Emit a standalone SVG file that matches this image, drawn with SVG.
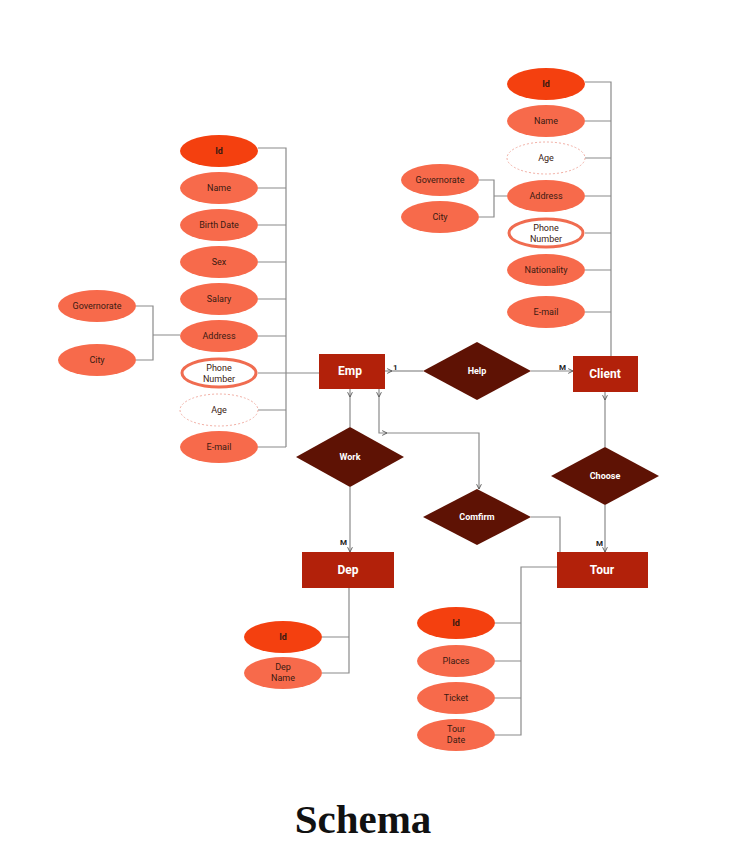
<svg xmlns="http://www.w3.org/2000/svg" width="732" height="860" viewBox="0 0 732 860">
<style>
.a{fill:#f76a4b}
.k{fill:#f4400f}
.w{fill:#fff;stroke:#f06c50;stroke-width:3}
.d{fill:#fff;stroke:#f2b0a6;stroke-width:1;stroke-dasharray:2 2}
.t{font-family:Roboto,"Liberation Sans",sans-serif;font-size:9px;fill:#3a1a12;text-anchor:middle}
.e{fill:#b2210a}
.r{fill:#5e1204}
.et{font-family:Roboto,"Liberation Sans",sans-serif;font-size:12px;font-weight:bold;fill:#fff;text-anchor:middle}
.rt{font-family:Roboto,"Liberation Sans",sans-serif;font-size:9px;font-weight:bold;fill:#fff;text-anchor:middle}
.l{fill:none;stroke:#8a8a8a;stroke-width:1.2}
.c{font-family:Roboto,"Liberation Sans",sans-serif;font-size:8px;font-weight:bold;fill:#222}
</style>
<defs>
<marker id="ar" viewBox="0 0 10 10" refX="9" refY="5" markerWidth="5" markerHeight="5" orient="auto"><path d="M1,1 L9,5 L1,9" fill="none" stroke="#555" stroke-width="1.5"/></marker>
</defs>
<rect width="732" height="860" fill="#fff"/>
<g id="connectors">
<path class="l" d="M258,148H286V447M258,188H286M258,225H286M258,262H286M258,299H286M258,336H286M258,410H286M258,447H286"/>
<path class="l" d="M258,373H319"/>
<path class="l" d="M136,306H153V360H136M153,335H180"/>
<path class="l" d="M585,82H611V356M585,121H611M585,158H611M585,196H611M585,233H611M585,270H611M585,312H611"/>
<path class="l" d="M479,180H494V217H479M494,196H507"/>
<path class="l" d="M385,371H392" marker-end="url(#ar)"/>
<path class="l" d="M392,371H423"/>
<path class="l" d="M531,371H573" marker-end="url(#ar)"/>
<text class="c" x="393" y="370">1</text>
<text class="c" x="559" y="370">M</text>
<path class="l" d="M350,389V397" marker-end="url(#ar)"/>
<path class="l" d="M350,397V427"/>
<path class="l" d="M350,487V552" marker-end="url(#ar)"/>
<text class="c" x="340" y="545">M</text>
<path class="l" d="M379,389V397" marker-end="url(#ar)"/>
<path class="l" d="M379,397V433H387" marker-end="url(#ar)"/>
<path class="l" d="M387,433H479V489" marker-end="url(#ar)"/>
<path class="l" d="M531,517H560V552"/>
<path class="l" d="M605,392V400" marker-end="url(#ar)"/>
<path class="l" d="M605,400V447"/>
<path class="l" d="M605,505V552" marker-end="url(#ar)"/>
<text class="c" x="596" y="546">M</text>
<path class="l" d="M349,588V673H322M322,637H349"/>
<path class="l" d="M557,567H521V735H495M495,623H521M495,661H521M495,698H521"/>
</g>
<g id="emp_id"><ellipse class="k" cx="219" cy="151" rx="39" ry="16"/><text class="t" x="219" y="154" font-weight="bold">Id</text></g>
<g id="emp_name"><ellipse class="a" cx="219" cy="188" rx="39" ry="16"/><text class="t" x="219" y="191">Name</text></g>
<g id="emp_birth"><ellipse class="a" cx="219" cy="225" rx="39" ry="16"/><text class="t" x="219" y="228">Birth Date</text></g>
<g id="emp_sex"><ellipse class="a" cx="219" cy="262" rx="39" ry="16"/><text class="t" x="219" y="265">Sex</text></g>
<g id="emp_salary"><ellipse class="a" cx="219" cy="299" rx="39" ry="16"/><text class="t" x="219" y="302">Salary</text></g>
<g id="emp_address"><ellipse class="a" cx="219" cy="336" rx="39" ry="16"/><text class="t" x="219" y="339">Address</text></g>
<g id="emp_phone"><ellipse class="w" cx="219" cy="373" rx="37" ry="14"/><text class="t" x="219" y="371">Phone</text><text class="t" x="219" y="382">Number</text></g>
<g id="emp_age"><ellipse class="d" cx="219" cy="410" rx="39" ry="16"/><text class="t" x="219" y="413">Age</text></g>
<g id="emp_email"><ellipse class="a" cx="219" cy="447" rx="39" ry="16"/><text class="t" x="219" y="450">E-mail</text></g>
<g id="emp_gov"><ellipse class="a" cx="97" cy="306" rx="39" ry="16"/><text class="t" x="97" y="309" font-size="8">Governorate</text></g>
<g id="emp_city"><ellipse class="a" cx="97" cy="360" rx="39" ry="16"/><text class="t" x="97" y="363" font-size="8">City</text></g>
<g id="cl_id"><ellipse class="k" cx="546" cy="84" rx="39" ry="16"/><text class="t" x="546" y="87" font-weight="bold">Id</text></g>
<g id="cl_name"><ellipse class="a" cx="546" cy="121" rx="39" ry="16"/><text class="t" x="546" y="124">Name</text></g>
<g id="cl_age"><ellipse class="d" cx="546" cy="158" rx="39" ry="16"/><text class="t" x="546" y="161">Age</text></g>
<g id="cl_address"><ellipse class="a" cx="546" cy="196" rx="39" ry="16"/><text class="t" x="546" y="199">Address</text></g>
<g id="cl_phone"><ellipse class="w" cx="546" cy="233" rx="37" ry="14"/><text class="t" x="546" y="231">Phone</text><text class="t" x="546" y="242">Number</text></g>
<g id="cl_nat"><ellipse class="a" cx="546" cy="270" rx="39" ry="16"/><text class="t" x="546" y="273">Nationality</text></g>
<g id="cl_email"><ellipse class="a" cx="546" cy="312" rx="39" ry="16"/><text class="t" x="546" y="315">E-mail</text></g>
<g id="cl_gov"><ellipse class="a" cx="440" cy="180" rx="39" ry="16"/><text class="t" x="440" y="183" font-size="8">Governorate</text></g>
<g id="cl_city"><ellipse class="a" cx="440" cy="217" rx="39" ry="16"/><text class="t" x="440" y="220" font-size="8">City</text></g>
<g id="emp"><rect class="e" x="319" y="354" width="66" height="35"/><text class="et" x="350" y="375">Emp</text></g>
<g id="client"><rect class="e" x="573" y="356" width="65" height="36"/><text class="et" x="605" y="378">Client</text></g>
<g id="dep"><rect class="e" x="302" y="552" width="92" height="36"/><text class="et" x="348" y="574">Dep</text></g>
<g id="tour"><rect class="e" x="557" y="552" width="91" height="36"/><text class="et" x="602" y="574">Tour</text></g>
<g id="help"><polygon class="r" points="477,342 531,371 477,400 423,371"/><text class="rt" x="477" y="374">Help</text></g>
<g id="work"><polygon class="r" points="350,427 404,457 350,487 296,457"/><text class="rt" x="350" y="460">Work</text></g>
<g id="confirm"><polygon class="r" points="477,489 531,517 477,545 423,517"/><text class="rt" x="477" y="520">Comfirm</text></g>
<g id="choose"><polygon class="r" points="605,447 659,476 605,505 551,476"/><text class="rt" x="605" y="479">Choose</text></g>
<g id="dep_id"><ellipse class="k" cx="283" cy="637" rx="39" ry="16"/><text class="t" x="283" y="640" font-weight="bold">Id</text></g>
<g id="dep_name"><ellipse class="a" cx="283" cy="673" rx="39" ry="16"/><text class="t" x="283" y="670">Dep</text><text class="t" x="283" y="681">Name</text></g>
<g id="tour_id"><ellipse class="k" cx="456" cy="623" rx="39" ry="16"/><text class="t" x="456" y="626" font-weight="bold">Id</text></g>
<g id="tour_places"><ellipse class="a" cx="456" cy="661" rx="39" ry="16"/><text class="t" x="456" y="664">Places</text></g>
<g id="tour_ticket"><ellipse class="a" cx="456" cy="698" rx="39" ry="16"/><text class="t" x="456" y="701">Ticket</text></g>
<g id="tour_date"><ellipse class="a" cx="456" cy="735" rx="39" ry="16"/><text class="t" x="456" y="732">Tour</text><text class="t" x="456" y="743">Date</text></g>
<text x="363" y="833" font-family="'Liberation Serif',serif" font-size="41" font-weight="bold" text-anchor="middle" fill="#111">Schema</text>
</svg>
